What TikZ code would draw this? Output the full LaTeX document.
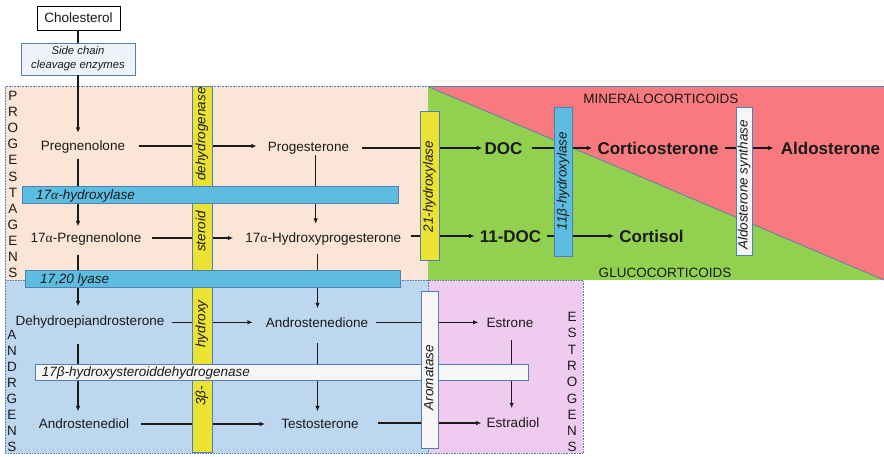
\documentclass[tikz,border=0pt]{standalone}
\usepackage{fontspec}
\setmainfont{Liberation Sans}
\newfontfamily\symf{Liberation Serif}
\usetikzlibrary{arrows.meta}
\definecolor{peach}{HTML}{FBE5D6}
\definecolor{andblue}{HTML}{BDD7EE}
\definecolor{estpink}{HTML}{EFCBEF}
\definecolor{minred}{HTML}{F87A7E}
\definecolor{glugreen}{HTML}{92D050}
\definecolor{barcyan}{HTML}{5DBDE0}
\definecolor{baryellow}{HTML}{ECE234}
\definecolor{barwhite}{HTML}{F6F6F6}
\definecolor{bord}{HTML}{4F7FB5}
\definecolor{scfill}{HTML}{EEF3FA}
\definecolor{txtc}{HTML}{1A1A1A}
\begin{document}
\begin{tikzpicture}[x=1pt,y=-1pt,
  txt/.style={inner sep=0pt, text=txtc, font=\fontsize{13.5}{16}\selectfont, text height=9.67pt, text depth=0pt},
  bold/.style={inner sep=0pt, text=txtc, font=\fontsize{17}{20}\selectfont\bfseries, text height=12.2pt, text depth=0pt},
  itx/.style={inner sep=0pt, text=txtc, font=\fontsize{13.5}{16}\selectfont\itshape, text height=9.67pt, text depth=0pt},
  rtx/.style={inner sep=0pt, text=txtc, rotate=90, font=\fontsize{13.5}{16}\selectfont\itshape, text height=9.67pt, text depth=2.9pt},
  region/.style={draw=bord, densely dotted, line width=0.6pt},
  ybar/.style={fill=baryellow, draw=bord, line width=0.8pt},
  cbar/.style={fill=barcyan, draw=bord, line width=0.8pt},
  wbar/.style={fill=barwhite, draw=bord, line width=0.8pt},
  conn/.style={draw=txtc, line width=1.1pt},
  arr/.style={conn, -{Latex[length=5.5pt,width=4.5pt]}}
]
\useasboundingbox (0,0) rectangle (884,456);

% regions
\path[region, fill=peach] (5,86.7) rectangle (428.3,280);
\path[region, fill=andblue] (5,280) rectangle (428.3,453);
\path[region, fill=estpink] (428.3,280) rectangle (583,453);
\path[fill=glugreen] (428.3,86.7) rectangle (884,280);
\path[fill=minred] (428.3,86.7) -- (884,86.7) -- (884,280) -- cycle;
\draw[bord, line width=0.7pt] (428.3,86.7) -- (884,280);
\draw[bord, line width=0.7pt] (428.3,86.7) -- (884,86.7);

\node[txt] (mineral) at (660.8,99) {MINERALOCORTICOIDS};
\node[txt] (gluco) at (665,272.7) {GLUCOCORTICOIDS};

% side letters
\foreach \l [count=\i from 0] in {P,R,O,G,E,S,T,A,G,E,N,S}
  \node[txt] (pg\i) at (13,95.7+16.1*\i) {\l};
\foreach \l [count=\i from 0] in {A,N,D,R,G,E,N,S}
  \node[txt] (an\i) at (12,335+16*\i) {\l};
\foreach \l [count=\i from 0] in {E,S,T,R,O,G,E,N,S}
  \node[txt] (es\i) at (572,316.7+16.3*\i) {\l};

% top boxes
\node[txt, draw=black, fill=white, line width=0.8pt, minimum width=83pt, minimum height=24pt] (chol) at (78.5,18) {Cholesterol};
\node[draw=bord, fill=scfill, line width=0.8pt, inner sep=0pt, minimum width=114pt, minimum height=32pt, align=center, text=txtc, font=\fontsize{11.3}{14}\selectfont\itshape] (scc) at (78,59) {Side chain\\cleavage enzymes};

% column coordinates
\coordinate (colA) at (78,0);
\coordinate (colB) at (315.7,0);
\coordinate (colC) at (317.5,0);
\coordinate (colD) at (511.7,0);

% compounds
\node[txt] (preg) at (83,146) {Pregnenolone};
\node[txt] (prog) at (308.5,146.5) {Progesterone};
\node[txt] (p17) at (86,238) {17{\symf α}-Pregnenolone};
\node[txt] (ohp) at (323.3,238) {17{\symf α}-Hydroxyprogesterone};
\node[txt] (dhea) at (90,320.5) {Dehydroepiandrosterone};
\node[txt] (andro) at (317,322.3) {Androstenedione};
\node[txt] (adiol) at (84,424) {Androstenediol};
\node[txt] (testo) at (320,424) {Testosterone};
\node[txt] (estrone) at (510,322.3) {Estrone};
\node[txt] (estradiol) at (513,423) {Estradiol};
\node[bold] (doc) at (503.5,148) {DOC};
\node[bold] (doc11) at (510.5,236) {11-DOC};
\node[bold] (cortico) at (658,148) {Corticosterone};
\node[bold] (aldo) at (830.5,148) {Aldosterone};
\node[bold] (cortisol) at (651.5,236) {Cortisol};

% vertical connectors
\draw[conn] (chol.south -| colA) -- (scc.north -| colA);
\draw[arr, shorten >=8pt] (scc.south -| colA) -- (preg.north -| colA);
\draw[arr, shorten <=7.8pt, shorten >=6.5pt] (preg.south -| colA) -- (p17.north -| colA);
\draw[arr, shorten <=3.7pt, shorten >=9pt] (prog.south -| colB) -- (ohp.north -| colB);
\draw[arr, shorten <=12pt, shorten >=9pt] (p17.south -| colA) -- (dhea.north -| colA);
\draw[arr, shorten <=11pt, shorten >=9pt] (ohp.south -| colC) -- (andro.north -| colC);
\draw[arr, shorten <=18.4pt, shorten >=7.5pt] (dhea.south -| colA) -- (adiol.north -| colA);
\draw[arr, shorten <=15.5pt, shorten >=7.5pt] (andro.south -| colC) -- (testo.north -| colC);
\draw[arr, shorten <=12.8pt, shorten >=9.7pt] (estrone.south -| colD) -- (estradiol.north -| colD);

% horizontal connectors
\draw[arr, shorten <=14pt, shorten >=11pt] (preg.east) -- (preg.east -| prog.west);
\draw[arr, shorten <=12.7pt, shorten >=2pt] (prog.east |- doc.west) -- (doc.west);
\draw[arr, shorten <=9pt, shorten >=5pt] (doc.east) -- (cortico.west);
\draw[arr, shorten <=6pt, shorten >=7pt] (cortico.east) -- (aldo.west);
\draw[arr, shorten <=10pt, shorten >=12pt] (p17.east) -- (ohp.west);
\draw[arr, shorten <=10pt, shorten >=5pt] (ohp.east |- doc11.west) -- (doc11.west);
\draw[arr, shorten <=6pt, shorten >=5pt] (doc11.east) -- (cortisol.west);
\draw[arr, shorten <=7pt, shorten >=13pt] (dhea.east |- andro.west) -- (andro.west);
\draw[arr, shorten <=8pt, shorten >=8pt] (andro.east) -- (estrone.west);
\draw[arr, shorten <=12pt, shorten >=16pt] (adiol.east) -- (testo.west);
\draw[arr, shorten <=19pt, shorten >=5pt] (testo.east |- estradiol.west) -- (estradiol.west);

% enzyme bars
\path[ybar] (192.7,86.7) rectangle (212.3,452.7);
\node[rtx] (e3a) at (202,134) {dehydrogenase};
\node[rtx] (e3b) at (202,231.7) {steroid};
\node[rtx] (e3c) at (202,324) {hydroxy};
\node[rtx] (e3d) at (202,396) {3β-};

\path[cbar] (22.7,186) rectangle (398.3,203.3);
\node[itx, anchor=west] (e17a) at (36,194.7) {17{\symf α}-hydroxylase};
\path[cbar] (25.7,270) rectangle (400,287.3);
\node[itx, anchor=west] (e1720) at (40,278.7) {17,20 lyase};

\path[wbar] (35,364) rectangle (528.3,380);
\node[itx, anchor=west] (e17b) at (41.7,372) {17β-hydroxysteroiddehydrogenase};

\path[wbar] (421.7,291.7) rectangle (438.3,448.3);
\node[rtx] (earo) at (430,377.5) {Aromatase};

\path[ybar] (420,111.7) rectangle (439,260);
\node[rtx] (e21) at (429.5,186.7) {21-hydroxylase};

\path[cbar] (554.3,107.7) rectangle (572.3,256.7);
\node[rtx] (e11) at (563.3,181) {11β-hydroxylase};

\path[wbar] (736,107.7) rectangle (752.7,255.7);
\node[rtx] (ealdo) at (744.3,185) {Aldosterone synthase};
\end{tikzpicture}
\end{document}
